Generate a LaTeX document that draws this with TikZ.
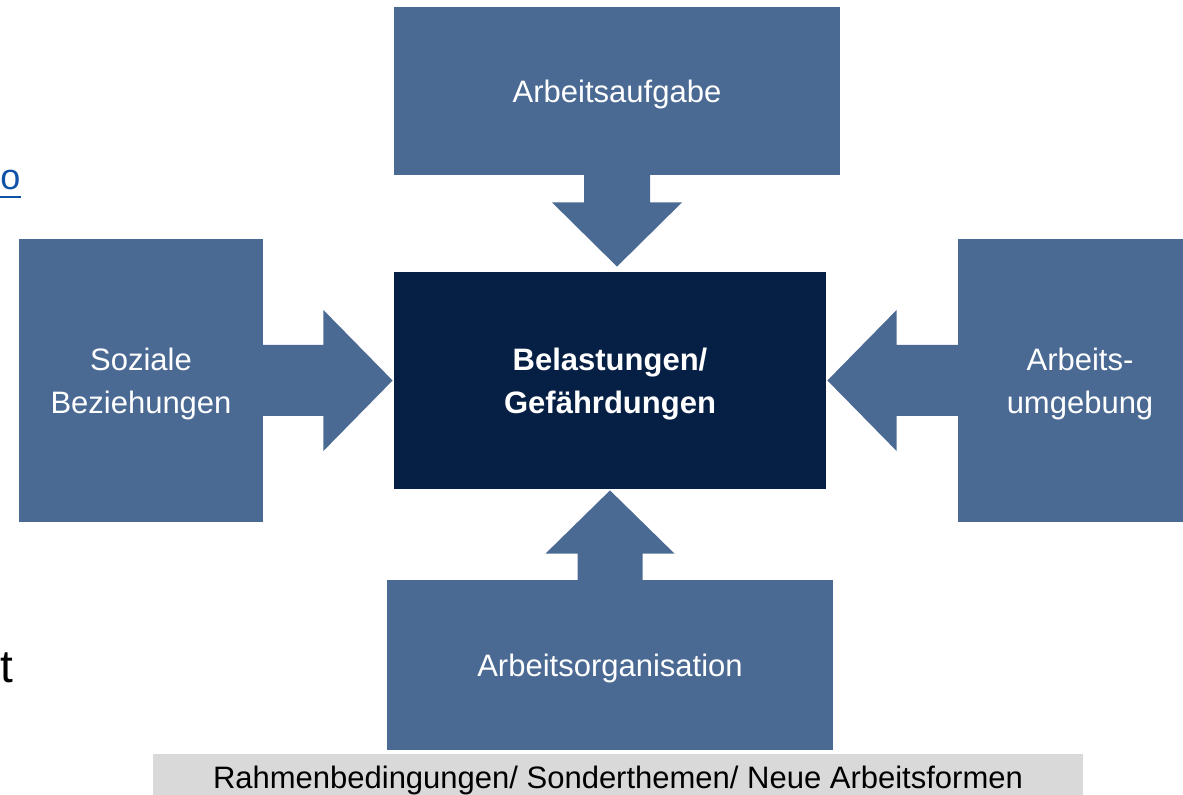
\documentclass[tikz,border=0pt]{standalone}
\usepackage{fontspec}
\setmainfont{Liberation Sans}
\usepackage{xcolor}
\usetikzlibrary{positioning, calc}
\definecolor{boxblue}{RGB}{74,106,148}
\definecolor{navy}{RGB}{6,31,69}
\definecolor{barbg}{RGB}{217,217,217}
\definecolor{linkblue}{RGB}{16,82,168}
\tikzset{
  factor/.style={
    rectangle, fill=boxblue, draw=none, inner sep=0pt, align=center,
    text=white, text depth=0pt, font=\fontsize{15.5}{21.5}\selectfont
  },
  core/.style={factor, fill=navy, font=\fontsize{15.5}{21.5}\selectfont\bfseries},
  flow/.style={fill=boxblue, draw=none},
  frame bar/.style={rectangle, fill=barbg, inner sep=0pt, text depth=0pt,
    font=\fontsize{15.5}{21.5}\selectfont},
}
\begin{document}
\begin{tikzpicture}[x=0.5pt, y=-0.5pt]
  \useasboundingbox (0,0) rectangle (1183,795);

  \node[core, minimum width=216pt, minimum height=108.5pt] (BG) at (610,380.5)
    {Belastungen/\\Gefährdungen};
  \node[factor, minimum width=223pt, minimum height=84pt] (AA) at (617,91)
    {Arbeitsaufgabe};
  \node[factor, minimum width=122pt, minimum height=141.5pt] (SB) at (141,380.5)
    {Soziale\\Beziehungen};
  \node[factor, minimum width=122pt, minimum height=141.5pt] (AU) at (1080,380.5)
    {Arbeits-\\umgebung};
  \node[factor, minimum width=223pt, minimum height=85pt] (AO) at (610,665)
    {Arbeitsorganisation};
  \node[frame bar, minimum width=465pt, minimum height=23pt] (RB) at (618,777.5)
    {Rahmenbedingungen/ Sonderthemen/ Neue Arbeitsformen};

  \node[anchor=base west, inner sep=0pt, font=\fontsize{18}{21}\selectfont,
    text=linkblue] (LK) at (0,190) {o};
  \draw[linkblue, line width=1pt] (LK.base west) ++(-1,7) -- ++(22,0);
  \node[anchor=base west, inner sep=0pt, font=\fontsize{23}{27}\selectfont]
    (TT) at (0,683) {t};

  \fill[flow] ($(AA.south)+(-33,-1)$) -- ++(0,28) -- ++(-32,0)
    -- ($(AA.south |- BG.north)+(0,-5)$)
    -- ($(AA.south)+(65,27)$) -- ++(-32,0) -- ($(AA.south)+(33,-1)$) -- cycle;
  \fill[flow] ($(AO.north)+(-32.5,1)$) -- ++(0,-27) -- ++(-32,0)
    -- ($(BG.south)+(0,1)$)
    -- ($(AO.north)+(64.5,-26)$) -- ++(-32,0) -- ($(AO.north)+(32.5,1)$) -- cycle;
  \fill[flow] ($(SB.east)+(-1,-35.5)$) -- ++(61,0) -- ++(0,-35)
    -- ($(BG.west)+(-1,0)$)
    -- ($(SB.east)+(60,70.5)$) -- ++(0,-35) -- ($(SB.east)+(-1,35.5)$) -- cycle;
  \fill[flow] ($(AU.west)+(1,-35.5)$) -- ++(-62,0) -- ++(0,-35)
    -- ($(BG.east)+(1,0)$)
    -- ($(AU.west)+(-61,70.5)$) -- ++(0,-35) -- ($(AU.west)+(1,35.5)$) -- cycle;
\end{tikzpicture}
\end{document}
